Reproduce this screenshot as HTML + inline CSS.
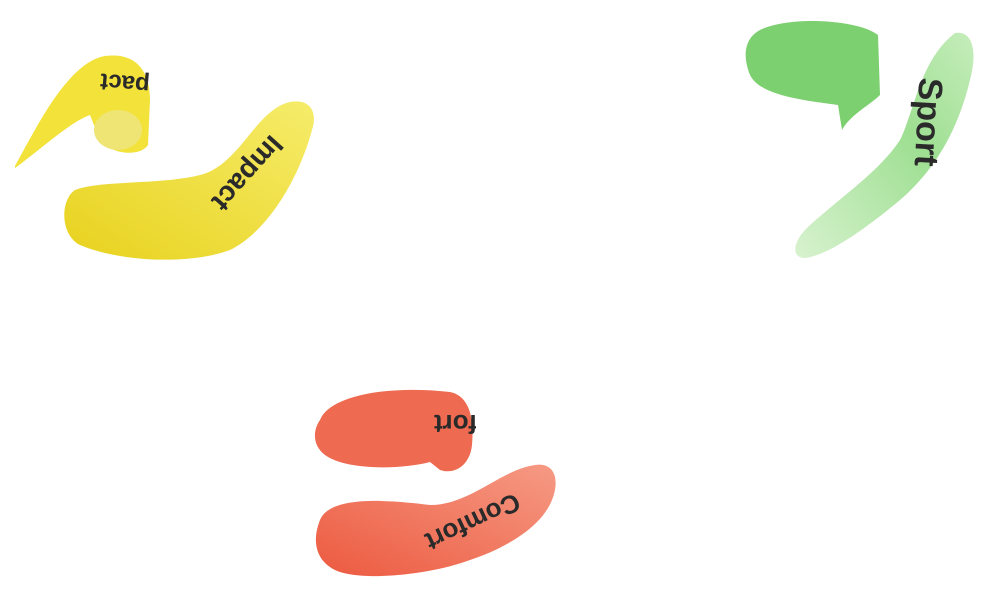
<!DOCTYPE html>
<html><head><meta charset="utf-8"><style>
html,body{margin:0;padding:0;background:#fff;width:1000px;height:600px;overflow:hidden}
svg text{font-family:"Liberation Sans",sans-serif;font-weight:bold;fill:#2a2a2a}
</style></head><body>
<svg width="1000" height="600" viewBox="0 0 1000 600">
<defs>
<linearGradient id="yg" x1="0" y1="1" x2="1" y2="0"><stop offset="0" stop-color="#e8d21e"/><stop offset="1" stop-color="#f6ec6a"/></linearGradient>
<linearGradient id="gg" x1="0" y1="1" x2="1" y2="0"><stop offset="0" stop-color="#d8f2cf"/><stop offset="0.6" stop-color="#9edf92"/><stop offset="1" stop-color="#c6edbb"/></linearGradient>
<linearGradient id="rg" x1="0" y1="1" x2="1" y2="0"><stop offset="0" stop-color="#ec5a40"/><stop offset="1" stop-color="#f69a84"/></linearGradient>
<clipPath id="rc"><rect x="300" y="380" width="176" height="100"/></clipPath>
<clipPath id="yc"><rect x="80" y="50" width="72" height="60"/></clipPath>
</defs>
<!-- yellow -->
<path d="M15,166 C40,120 70,62 105,56 C135,52 150,70 150,100 L148,145 C140,157 112,155 100,140 L90,115 C70,122 40,150 15,168 Z" fill="#f2e23a"/>
<ellipse cx="118" cy="130" rx="24" ry="20" fill="#efe575"/>
<path d="M75,190 C100,180 160,185 200,175 C240,165 255,110 290,102 C310,98 318,112 312,130 C300,175 270,230 230,250 C190,265 120,262 80,245 C60,235 60,200 75,190 Z" fill="url(#yg)"/>
<text x="0" y="0" font-size="28" transform="translate(246,172) rotate(132)" text-anchor="middle" dominant-baseline="middle">Impact</text>
<g clip-path="url(#yc)"><text x="0" y="0" font-size="24" transform="translate(125,82) rotate(185)" text-anchor="middle" dominant-baseline="middle">pact</text></g>
<!-- green -->
<path d="M760,30 C790,15 860,20 878,35 L880,95 C870,105 850,115 842,130 L838,105 C800,100 760,95 750,75 C742,55 745,38 760,30 Z" fill="#7dd070"/>
<path d="M955,33 C972,30 978,50 970,80 C958,130 935,170 900,200 C870,225 830,255 805,258 C790,258 793,240 810,225 C850,190 880,170 900,140 C915,110 920,60 955,33 Z" fill="url(#gg)"/>
<text x="0" y="0" font-size="34" transform="translate(926,122) rotate(93)" text-anchor="middle" dominant-baseline="middle">Sport</text>
<!-- red -->
<path d="M320,420 C330,395 390,385 450,392 C465,395 475,410 472,445 C470,465 455,475 440,470 L430,462 C400,470 345,470 325,455 C312,445 313,430 320,420 Z" fill="#ee6a50"/>
<g clip-path="url(#rc)"><text x="0" y="0" font-size="26" transform="translate(535,422) rotate(180)" dominant-baseline="middle">Comfort</text></g>
<path d="M320,520 C330,495 390,500 430,505 C470,505 500,470 535,465 C555,462 560,480 552,500 C540,530 500,550 470,560 C430,575 360,582 335,570 C315,560 312,540 320,520 Z" fill="url(#rg)"/>
<text x="0" y="0" font-size="26" transform="translate(472,520) rotate(155)" text-anchor="middle" dominant-baseline="middle">Comfort</text>
</svg>
</body></html>
